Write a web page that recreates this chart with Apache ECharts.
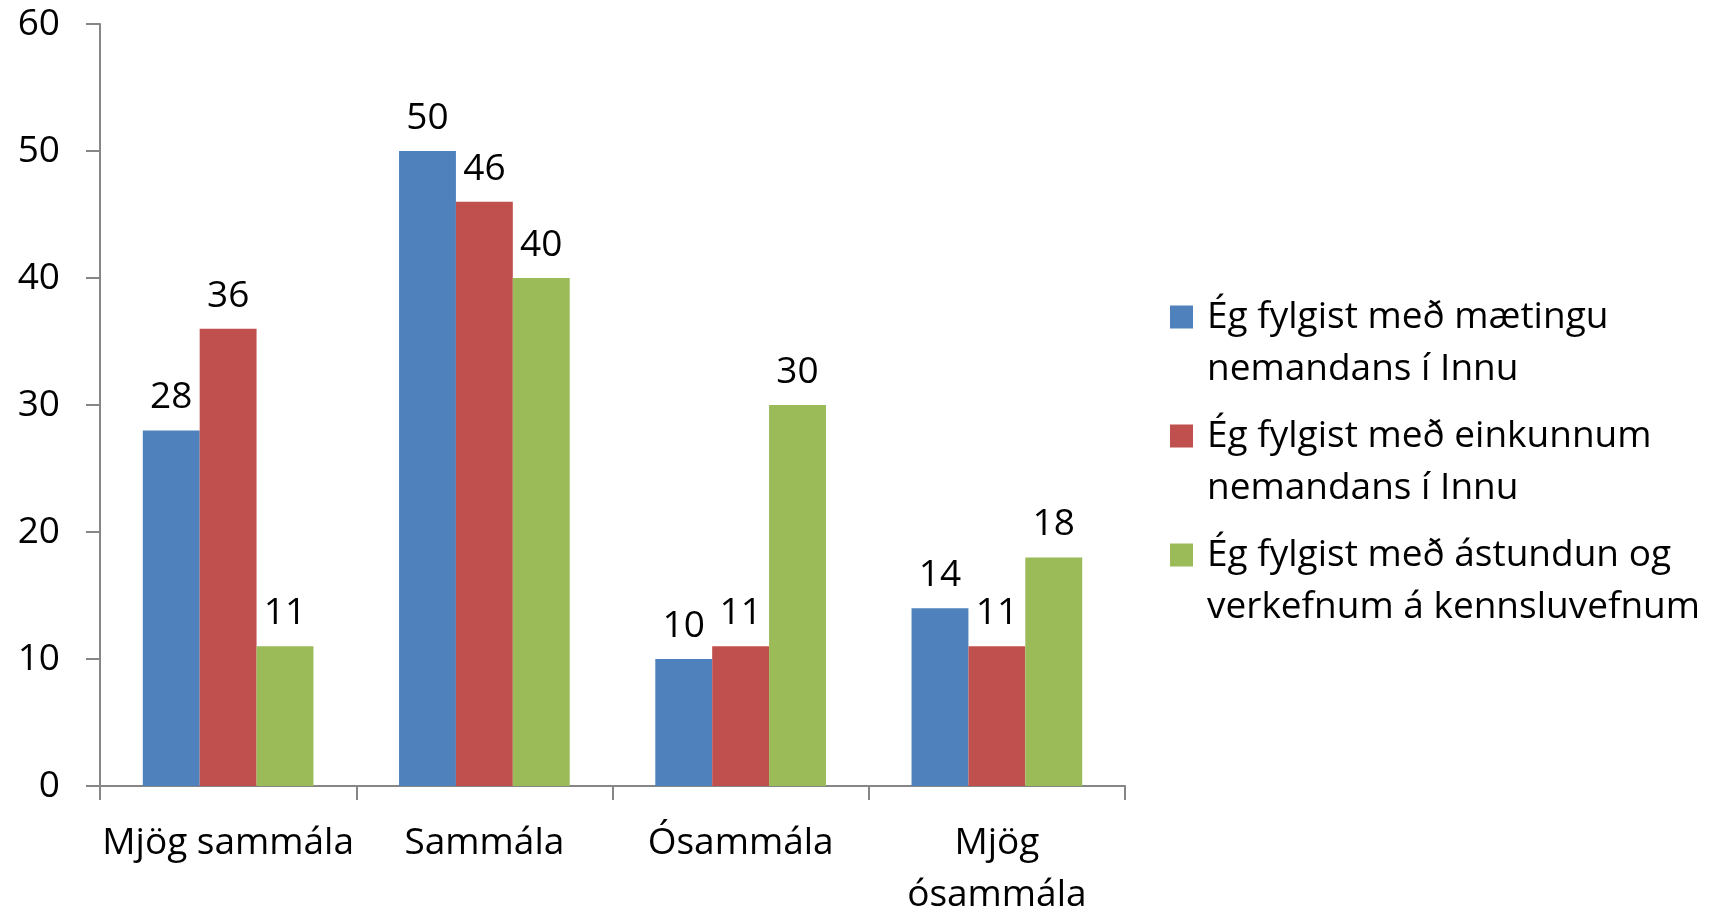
<!DOCTYPE html>
<html>
<head>
<meta charset="utf-8">
<script src="https://cdn.jsdelivr.net/npm/echarts@6/dist/echarts.min.js"></script>
<style>html,body{margin:0;padding:0;background:#fff}#c{width:1713px;height:912px}</style>
</head>
<body>
<div id="c"></div>
<script>
const categories = ['Mjög sammála', 'Sammála', 'Ósammála', 'Mjög\nósammála'];
const seriesNames = [
  'Ég fylgist með mætingu\nnemandans í Innu',
  'Ég fylgist með einkunnum\nnemandans í Innu',
  'Ég fylgist með ástundun og\nverkefnum á kennsluvefnum'
];
const attendance = [28, 50, 10, 14];
const grades = [36, 46, 11, 11];
const coursework = [11, 40, 30, 18];
const yTicks = [0, 10, 20, 30, 40, 50, 60];
const colors = ['#4F81BD', '#C0504D', '#9BBB59'];

const FONT = 'Open Sans';
const FS = 37;
const iconPath = 'path://M0,0L0.01,0M0,14.5L23,14.5L23,37.5L0,37.5ZM0,104L0.01,104';

function mk(name, data, color) {
  return {
    name: name, type: 'bar', data: data,
    barGap: '0%', barCategoryGap: '33.4%',
    itemStyle: { color: color },
    label: { show: true, position: 'top', distance: 14, color: '#000', fontFamily: FONT, fontSize: FS }
  };
}

const chart = echarts.init(document.getElementById('c'));
chart.setOption({
  animation: false,
  textStyle: { fontFamily: FONT },
  grid: { left: 100, right: 588, top: 24, bottom: 126, containLabel: false, outerBoundsMode: 'none' },
  xAxis: {
    type: 'category', data: categories,
    axisLine: { lineStyle: { color: '#868686', width: 2 } },
    axisTick: { show: true, length: 14, lineStyle: { color: '#868686', width: 2 } },
    axisLabel: { color: '#000', fontFamily: FONT, fontSize: FS, lineHeight: 52, margin: 31, interval: 0 }
  },
  yAxis: {
    type: 'value', min: yTicks[0], max: yTicks[yTicks.length - 1], interval: 10,
    splitLine: { show: false },
    axisLine: { show: true, lineStyle: { color: '#868686', width: 2 } },
    axisTick: { show: true, length: 14, lineStyle: { color: '#868686', width: 2 } },
    axisLabel: { color: '#000', fontFamily: FONT, fontSize: FS, margin: 40 }
  },
  legend: {
    orient: 'vertical', left: 1170, top: 291, padding: 0,
    itemWidth: 23, itemHeight: 104, itemGap: 15,
    icon: iconPath,
    textStyle: { color: '#000', fontFamily: FONT, fontSize: FS, lineHeight: 52, padding: [0, 0, 0, 9] },
    selectedMode: false,
    data: seriesNames
  },
  series: [
    mk(seriesNames[0], attendance, colors[0]),
    mk(seriesNames[1], grades, colors[1]),
    mk(seriesNames[2], coursework, colors[2])
  ]
});
</script>
</body>
</html>
